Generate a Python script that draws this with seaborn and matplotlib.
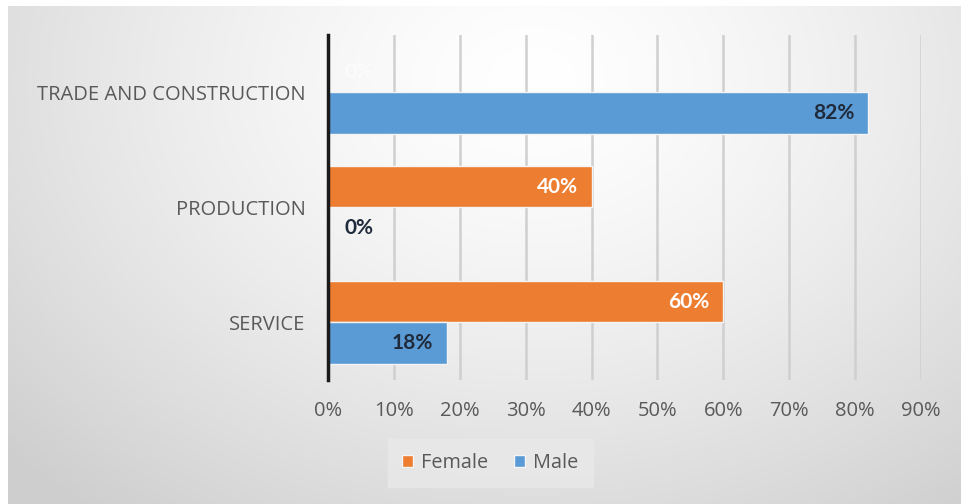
import numpy as np
import pandas as pd
import seaborn as sns
import matplotlib.pyplot as plt
from matplotlib.ticker import PercentFormatter

categories = ['TRADE AND CONSTRUCTION', 'PRODUCTION', 'SERVICE']
female = [0, 40, 60]
male = [82, 0, 18]
x_ticks = [0, 10, 20, 30, 40, 50, 60, 70, 80, 90]

df = pd.DataFrame({
    'category': categories * 2,
    'value': female + male,
    'gender': ['Female'] * 3 + ['Male'] * 3,
})

sns.set_theme(style='white')
plt.rcParams['font.family'] = ['Open Sans', 'DejaVu Sans']

fig = plt.figure(figsize=(9.61, 5.04), dpi=100)

# background gradient with a thin white margin
bg = fig.add_axes([0.008, 0.0, 0.992, 0.988])
yy, xx = np.mgrid[0:1:200j, 0:1:400j]
d = np.sqrt(((xx - 0.55) / 0.75) ** 2 + ((yy - 0.85) / 1.1) ** 2)
shade = 1 - 0.19 * np.clip(d, 0, 1) ** 1.4
bg.imshow(np.dstack([shade] * 3), extent=[0, 1, 0, 1], origin='lower', aspect='auto')
bg.set_axis_off()

ax = fig.add_axes([0.3413, 0.246, 0.617, 0.685])
ax.patch.set_alpha(0)

sns.barplot(data=df, y='category', x='value', hue='gender', order=categories,
            hue_order=['Female', 'Male'], palette=['#ED7D31', '#5B9BD5'], saturation=1,
            width=0.72, orient='h', edgecolor='#f4f4f4', linewidth=1, ax=ax, zorder=3)

ax.set_xlim(0, 90)
ax.set_ylim(2.5, -0.5)
ax.set_xticks(x_ticks)
ax.xaxis.set_major_formatter(PercentFormatter(decimals=0))
ax.grid(axis='x', color='#cfcfcf', linewidth=1.8, zorder=0)
ax.set_axisbelow(True)
for s in ['top', 'right', 'bottom']:
    ax.spines[s].set_visible(False)
ax.spines['left'].set_color('#1a1a1a')
ax.spines['left'].set_linewidth(2.5)
ax.spines['left'].set_zorder(5)
ax.tick_params(axis='both', length=0, labelsize=14.5, labelcolor='#595959')
ax.tick_params(axis='y', pad=16)
ax.tick_params(axis='x', pad=15)
ax.set_xlabel('')
ax.set_ylabel('')

# data labels
lab_font = ['Lato', 'DejaVu Sans']
for cont, vals, col in zip(ax.containers, [female, male], ['white', '#1f2a3a']):
    for bar, v in zip(cont, vals):
        yc = bar.get_y() + bar.get_height() / 2
        if v == 0:
            ax.annotate(f'{v}%', (0, yc), xytext=(12, 0), textcoords='offset points',
                        ha='left', va='center', fontsize=15, fontweight='bold',
                        family=lab_font, color=col,
                        alpha=0.55 if col == 'white' else 1, zorder=6)
        else:
            ax.annotate(f'{v}%', (v, yc), xytext=(-10, 0), textcoords='offset points',
                        ha='right', va='center', fontsize=15, fontweight='bold',
                        family=lab_font, color=col, zorder=6)

leg = ax.legend(loc='center', bbox_to_anchor=(0.274, -0.24), ncol=2, frameon=True,
                fontsize=14.3, handlelength=0.55, handleheight=0.55, handletextpad=0.4,
                columnspacing=1.3, borderpad=0.42)
leg.get_frame().set_facecolor('#e9e9e9')
leg.get_frame().set_edgecolor('#e9e9e9')
leg.get_frame().set_boxstyle('square')
for t in leg.get_texts():
    t.set_color('#595959')

fig.savefig('out.png', dpi=100)
